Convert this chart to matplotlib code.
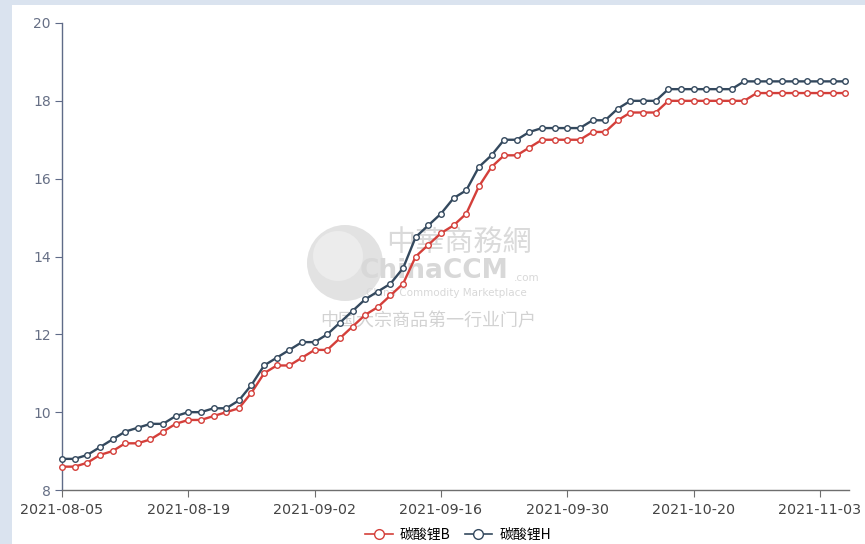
import matplotlib
matplotlib.use("Agg")
import matplotlib.pyplot as plt
from matplotlib.patches import Rectangle, Ellipse
from matplotlib.lines import Line2D

plt.rcParams['font.family'] = ['DejaVu Sans', 'Noto Sans CJK SC']

dates = [
    "2021-08-05", "2021-08-06", "2021-08-09", "2021-08-10", "2021-08-11", "2021-08-12", "2021-08-13",
    "2021-08-16", "2021-08-17", "2021-08-18", "2021-08-19", "2021-08-20", "2021-08-23", "2021-08-24",
    "2021-08-25", "2021-08-26", "2021-08-27", "2021-08-30", "2021-08-31", "2021-09-01", "2021-09-02",
    "2021-09-03", "2021-09-06", "2021-09-07", "2021-09-08", "2021-09-09", "2021-09-10", "2021-09-13",
    "2021-09-14", "2021-09-15", "2021-09-16", "2021-09-17", "2021-09-18", "2021-09-22", "2021-09-23",
    "2021-09-24", "2021-09-26", "2021-09-27", "2021-09-28", "2021-09-29", "2021-09-30", "2021-10-08",
    "2021-10-09", "2021-10-11", "2021-10-12", "2021-10-13", "2021-10-14", "2021-10-15", "2021-10-18",
    "2021-10-19", "2021-10-20", "2021-10-21", "2021-10-22", "2021-10-25", "2021-10-26", "2021-10-27",
    "2021-10-28", "2021-10-29", "2021-11-01", "2021-11-02", "2021-11-03", "2021-11-04", "2021-11-05",
]

series_B = [
    8.6, 8.6, 8.7, 8.9, 9.0, 9.2, 9.2, 9.3, 9.5, 9.7,
    9.8, 9.8, 9.9, 10.0, 10.1, 10.5, 11.0, 11.2, 11.2, 11.4,
    11.6, 11.6, 11.9, 12.2, 12.5, 12.7, 13.0, 13.3, 14.0, 14.3,
    14.6, 14.8, 15.1, 15.8, 16.3, 16.6, 16.6, 16.8, 17.0, 17.0,
    17.0, 17.0, 17.2, 17.2, 17.5, 17.7, 17.7, 17.7, 18.0, 18.0,
    18.0, 18.0, 18.0, 18.0, 18.0, 18.2, 18.2, 18.2, 18.2, 18.2,
    18.2, 18.2, 18.2,
]

series_H = [
    8.8, 8.8, 8.9, 9.1, 9.3, 9.5, 9.6, 9.7, 9.7, 9.9,
    10.0, 10.0, 10.1, 10.1, 10.3, 10.7, 11.2, 11.4, 11.6, 11.8,
    11.8, 12.0, 12.3, 12.6, 12.9, 13.1, 13.3, 13.7, 14.5, 14.8,
    15.1, 15.5, 15.7, 16.3, 16.6, 17.0, 17.0, 17.2, 17.3, 17.3,
    17.3, 17.3, 17.5, 17.5, 17.8, 18.0, 18.0, 18.0, 18.3, 18.3,
    18.3, 18.3, 18.3, 18.3, 18.5, 18.5, 18.5, 18.5, 18.5, 18.5,
    18.5, 18.5, 18.5,
]

series_names = ["碳酸锂B", "碳酸锂H"]
colors = ["#d43f3a", "#34495e"]
y_ticks = [8, 10, 12, 14, 16, 18, 20]
tick_step = 10

W, H = 865, 544
fig = plt.figure(figsize=(W / 100, H / 100), dpi=100)
fig.patch.set_facecolor("#dae3ef")
fig.add_artist(Rectangle((12 / W, 0), 1 - 12 / W, 1 - 5 / H, transform=fig.transFigure,
                         facecolor="white", edgecolor="none", zorder=0))

ax = fig.add_axes([62 / W, 1 - 490 / H, (849 - 62) / W, (490 - 23) / H])
ax.set_facecolor("white")
x = list(range(len(dates)))
ax.set_xlim(0, len(dates) - 0.7)
ax.set_ylim(8, 20)

# watermark
def fx(px):
    return px / W
def fy(py):
    return 1 - py / H
ax.add_artist(Ellipse((fx(345), fy(263)), 76 / W, 76 / H, transform=fig.transFigure,
                      facecolor="#e2e2e2", edgecolor="none", zorder=0.2))
ax.add_artist(Ellipse((fx(338), fy(256)), 50 / W, 50 / H, transform=fig.transFigure,
                      facecolor="#ececec", edgecolor="none", zorder=0.25))
cjk = ["Noto Sans CJK SC", "DejaVu Sans"]
ax.text(fx(386), fy(243), "中華商務網", transform=fig.transFigure, fontsize=21,
        family=cjk, color="#dadada", ha="left", va="center", zorder=0.3)
ax.text(fx(360), fy(271), "ChinaCCM", transform=fig.transFigure, fontsize=19, fontweight="bold",
        color="#d8d8d8", ha="left", va="center", zorder=0.3)
ax.text(fx(514), fy(278), ".com", transform=fig.transFigure, fontsize=7.5,
        color="#d8d8d8", ha="left", va="center", zorder=0.3)
ax.text(fx(366), fy(293), "China Commodity Marketplace", transform=fig.transFigure, fontsize=7.5,
        color="#d8d8d8", ha="left", va="center", zorder=0.3)
ax.text(fx(320), fy(321), "中国大宗商品第一行业门户", transform=fig.transFigure, fontsize=13,
        family=cjk, color="#d2d2d2", ha="left", va="center", zorder=0.3)

for vals, name, c in zip([series_B, series_H], series_names, colors):
    ax.plot(x, vals, color=c, linewidth=1.7, marker="o", markersize=4.0,
            markerfacecolor="white", markeredgecolor=c, markeredgewidth=1.0,
            label=name, zorder=3, clip_on=False)

for s in ["top", "right"]:
    ax.spines[s].set_visible(False)
ax.spines["left"].set_color("#5f6b88")
ax.spines["bottom"].set_color("#6e6e6e")
ax.spines["left"].set_linewidth(1.0)
ax.spines["bottom"].set_linewidth(1.0)

ax.set_yticks(y_ticks)
ax.set_yticklabels([str(v) for v in y_ticks])
ax.tick_params(axis="y", colors="#5f6b88", labelcolor="#666f85", length=5, labelsize=10, pad=3)

xt = x[::tick_step]
ax.set_xticks(xt)
ax.set_xticklabels([dates[i] for i in xt])
ax.tick_params(axis="x", colors="#6e6e6e", labelcolor="#444444", length=5, labelsize=10.3, pad=4)

handles = [Line2D([0], [0], color=c, linewidth=1.2, marker="o", markersize=7,
                  markerfacecolor="white", markeredgecolor=c, markeredgewidth=1.0)
           for c in colors]
fig.legend(handles, series_names, loc="center", bbox_to_anchor=(458 / W, 1 - 535 / H),
           ncol=2, frameon=False, handlelength=2.0, columnspacing=1.0,
           handletextpad=0.5, prop={"family": cjk, "size": 10})

fig.savefig("out.png", dpi=100)
